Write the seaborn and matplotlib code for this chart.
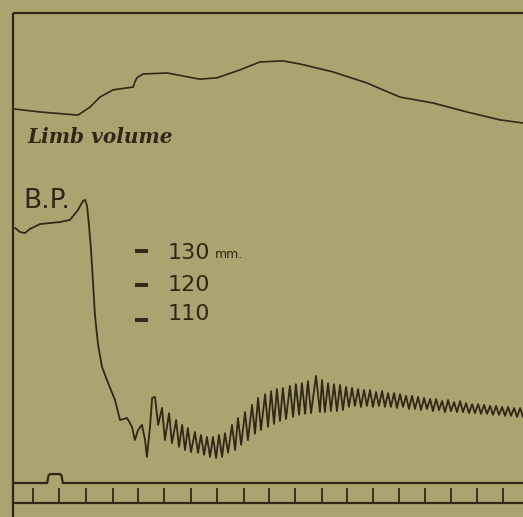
import matplotlib
matplotlib.use("Agg")
import matplotlib.pyplot as plt
import seaborn as sns
import pandas as pd

paper = "#ada371"
ink = "#2f2817"

# limb volume tracing (time in s, drawn on the same vertical scale as B.P.)
limb_t = [0.0, 1.03, 2.49, 2.95, 3.33, 3.83, 4.29, 4.60, 4.67, 4.75, 4.98, 5.90,
          7.16, 7.82, 8.70, 9.46, 10.34, 11.0, 12.26, 13.56, 14.83, 16.09, 17.39,
          18.66, 19.54]
limb_vol = [171.2, 170.3, 169.4, 171.7, 174.6, 176.7, 177.2, 177.5, 179.0, 180.2,
            181.3, 181.6, 179.8, 180.2, 182.5, 184.8, 185.1, 184.2, 181.9, 178.7,
            174.6, 172.9, 170.3, 168.0, 167.1]

# blood pressure tracing, mm Hg
bp_t = [0.08, 0.27, 0.46, 0.65, 1.03, 1.42, 1.80, 2.18, 2.30, 2.49, 2.68, 2.76,
        2.84, 2.91, 2.99, 3.07, 3.14, 3.26, 3.41, 3.60, 3.72, 3.91, 4.10, 4.37,
        4.56, 4.67, 4.79, 4.94, 5.06, 5.13, 5.25, 5.33,
        5.44, 5.56, 5.71, 5.82, 5.98, 6.09, 6.25, 6.36, 6.48, 6.59, 6.70, 6.82,
        6.97, 7.09, 7.20, 7.32, 7.43, 7.55, 7.66, 7.78, 7.89, 8.01,
        8.12, 8.24, 8.39, 8.51, 8.62, 8.74, 8.89, 9.00, 9.16, 9.27, 9.39, 9.50,
        9.66, 9.77, 9.89, 10.00, 10.11, 10.23, 10.34, 10.46, 10.61, 10.73, 10.84,
        10.96, 11.07, 11.19, 11.30, 11.42, 11.61, 11.76, 11.84, 11.95, 12.07,
        12.18, 12.30, 12.41, 12.53, 12.64,
        12.76, 12.87, 12.99, 13.10, 13.22, 13.33, 13.45, 13.56, 13.68, 13.79,
        13.91, 14.02, 14.14, 14.25, 14.37, 14.48, 14.60, 14.71, 14.83, 14.94,
        15.06, 15.17, 15.29, 15.40, 15.52, 15.63, 15.75, 15.86, 15.98, 16.09,
        16.21, 16.32, 16.44, 16.55, 16.67, 16.78, 16.90, 17.01, 17.13, 17.24,
        17.36, 17.47, 17.59, 17.70, 17.82, 17.93, 18.05, 18.16, 18.28, 18.39,
        18.51, 18.62, 18.74, 18.85, 18.97, 19.08, 19.20, 19.31, 19.43, 19.54]
bp_mm = [136.7, 135.5, 135.2, 136.4, 137.8, 138.1, 138.4, 139.0, 140.1, 141.9,
         144.5, 144.8, 143.0, 137.5, 130.3, 120.1, 111.4, 102.8, 96.4, 92.6, 90.3,
         86.8, 81.0, 81.6, 79.0, 75.2, 78.1, 79.6, 75.2, 70.3, 79.0, 87.4,
         87.7, 79.6, 84.5, 75.2, 83.0, 74.3, 81.0, 73.2, 79.6, 72.3, 78.7, 71.7,
         77.5, 71.5, 76.7, 70.9, 76.1, 70.3, 76.1, 70.0, 76.7, 70.3,
         77.2, 71.5, 79.6, 72.3, 81.6, 73.8, 83.3, 75.2, 85.4, 77.0, 87.4, 78.1,
         88.5, 79.0, 89.4, 79.9, 90.0, 80.7, 90.3, 81.3, 90.9, 81.9, 91.4, 82.5,
         91.7, 82.8, 92.3, 83.0, 93.8, 83.3, 92.6, 83.3, 91.7, 83.6, 91.4, 83.6,
         91.2, 83.9,
         90.6, 84.8, 90.3, 85.1, 90.0, 84.8, 89.7, 85.1, 89.7, 84.8,
         89.1, 85.1, 89.4, 84.8, 88.8, 84.8, 88.8, 84.5, 88.5, 84.8,
         88.0, 84.2, 88.0, 84.2, 87.7, 83.9, 87.4, 84.2, 87.1, 83.6,
         87.1, 83.9, 86.5, 83.3, 86.8, 83.6, 86.2, 83.3, 86.5, 83.3,
         85.9, 83.0, 85.6, 83.0, 85.6, 82.8, 85.4, 82.8, 85.1, 82.5,
         85.1, 82.5, 84.8, 82.2, 84.8, 82.2, 84.5, 81.9, 84.5, 81.9]

# calibration marks
scale_mm = [130, 120, 110]
scale_txt = ["130", "120", "110"]
label_dy = [-0.6, 0.0, 1.6]

# signal line and time marks (seconds)
signal_t = [0.0, 1.31, 1.36, 1.42, 1.80, 1.86, 1.91, 19.6]
signal_lvl = [62.75, 62.75, 64.9, 65.35, 65.35, 64.9, 62.75, 62.75]
time_marks = [0.77, 1.76, 2.80, 3.83, 4.79, 5.79, 6.82, 7.82, 8.85, 9.81, 10.80,
              11.84, 12.80, 13.79, 14.79, 15.79, 16.78, 17.78, 18.77]
base_lvl = 56.95

sns.set_style("white")
fig = plt.figure(figsize=(5.23, 5.17), dpi=100, facecolor=paper)
ax = fig.add_axes([0, 0, 1, 1])
ax.set_facecolor(paper)

limb_df = pd.DataFrame({"t": limb_t, "v": limb_vol})
bp_df = pd.DataFrame({"t": bp_t, "mm": bp_mm})
sns.lineplot(data=limb_df, x="t", y="v", color=ink, lw=1.2, sort=False,
             estimator=None, ax=ax)
sns.lineplot(data=bp_df, x="t", y="mm", color=ink, lw=1.3, sort=False,
             estimator=None, ax=ax)
sns.lineplot(x=signal_t, y=signal_lvl, color=ink, lw=1.6, sort=False,
             estimator=None, ax=ax)

# frame
ax.vlines(0, 40, 199.0, color=ink, lw=1.6)
ax.hlines(199.0, 0, 20, color=ink, lw=1.6)
ax.hlines(base_lvl, 0, 20, color=ink, lw=1.6)
ax.vlines(time_marks, base_lvl, 61.3, color=ink, lw=1.3)

# calibration dashes + labels
ax.hlines(scale_mm, 4.67, 5.17, color=ink, lw=2.8)
for lvl, s, dy in zip(scale_mm, scale_txt, label_dy):
    ax.text(5.94, lvl + dy, s, fontsize=16, color=ink, va="center", ha="left")
ax.text(7.74, 127.97, "mm.", fontsize=9, color=ink, va="baseline", ha="left")

ax.text(0.38, 142.5, "B.P.", fontsize=19, color=ink, va="baseline", ha="left")
ax.text(0.54, 161.3, "Limb volume", fontsize=14.5, color=ink, va="baseline",
        ha="left", family="DejaVu Serif", style="italic", weight="bold")

ax.set_xlim(-0.498, 19.54)
ax.set_ylim(52.9, 202.75)
ax.axis("off")

fig.savefig("out.png", dpi=100, facecolor=paper)
